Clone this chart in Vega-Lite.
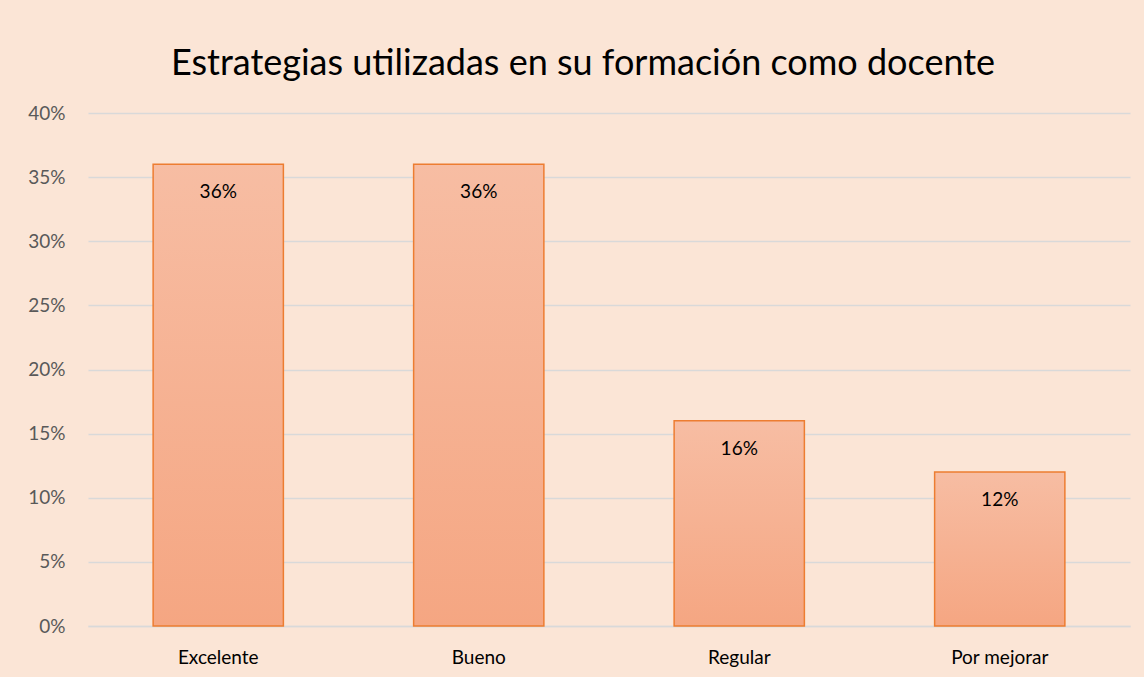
{
  "$schema": "https://vega.github.io/schema/vega-lite/v6.json",
  "width": 1042,
  "height": 513,
  "autosize": {"type": "none"},
  "padding": {"left": 88, "top": 113, "right": 14, "bottom": 51},
  "background": "#FBE5D6",
  "title": {
    "text": "Estrategias utilizadas en su formación como docente",
    "font": "Lato",
    "fontSize": 36,
    "fontWeight": "normal",
    "color": "#000000",
    "anchor": "middle",
    "dx": -26,
    "offset": 21
  },
  "data": {
    "values": [
      {"categoria": "Excelente", "valor": 0.36},
      {"categoria": "Bueno", "valor": 0.36},
      {"categoria": "Regular", "valor": 0.16},
      {"categoria": "Por mejorar", "valor": 0.12}
    ]
  },
  "config": {
    "view": {"stroke": null},
    "font": "Lato"
  },
  "encoding": {
    "x": {
      "field": "categoria",
      "type": "nominal",
      "sort": null,
      "title": null,
      "scale": {"paddingInner": 0.5, "paddingOuter": 0.25},
      "axis": {
        "labelAngle": 0,
        "labelFont": "Lato",
        "labelFontSize": 19,
        "labelColor": "#000000",
        "labelPadding": 22,
        "ticks": false,
        "domainColor": "#D9D9D9",
        "domainWidth": 1.5,
        "grid": false
      }
    },
    "y": {
      "field": "valor",
      "type": "quantitative",
      "title": null,
      "scale": {"domain": [0, 0.4], "nice": false},
      "axis": {
        "format": ".0%",
        "values": [0, 0.05, 0.1, 0.15, 0.2, 0.25, 0.3, 0.35, 0.4],
        "labelFont": "Lato",
        "labelFontSize": 19,
        "labelColor": "#595959",
        "labelPadding": 23,
        "ticks": false,
        "domain": false,
        "grid": true,
        "gridColor": "#D9D9D9",
        "gridWidth": 1.5
      }
    }
  },
  "layer": [
    {
      "mark": {
        "type": "bar",
        "stroke": "#ED7D31",
        "strokeWidth": 1.5,
        "color": {
          "gradient": "linear",
          "x1": 0, "y1": 0, "x2": 0, "y2": 1,
          "stops": [
            {"offset": 0, "color": "#F7BDA3"},
            {"offset": 1, "color": "#F5A682"}
          ]
        }
      }
    },
    {
      "mark": {
        "type": "text",
        "baseline": "top",
        "dy": 19,
        "font": "Lato",
        "fontSize": 19,
        "color": "#000000"
      },
      "encoding": {
        "text": {"field": "valor", "type": "quantitative", "format": ".0%"}
      }
    }
  ]
}
